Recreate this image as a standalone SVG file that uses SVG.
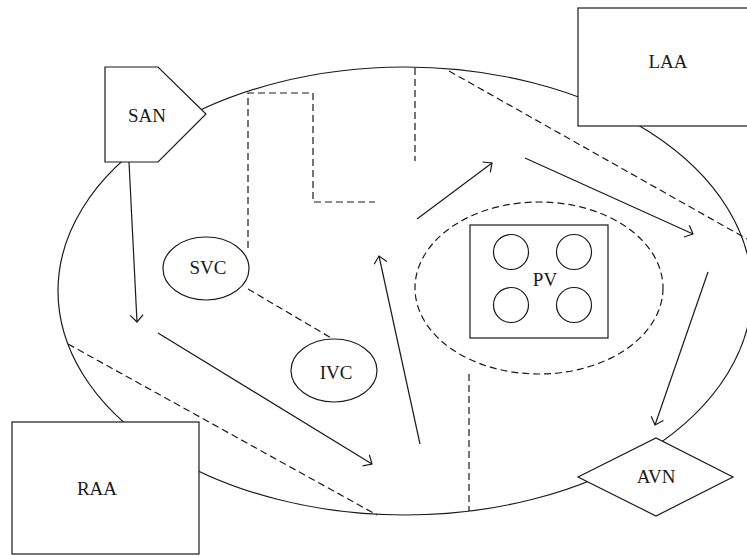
<svg xmlns="http://www.w3.org/2000/svg" width="747" height="556" viewBox="0 0 747 556">
<style>
.s{fill:none;stroke:#1a1a1a;stroke-width:1.2}
.n{fill:#fff;stroke:#1a1a1a;stroke-width:1.2}
.d{fill:none;stroke:#1a1a1a;stroke-width:1.2;stroke-dasharray:7,4}
.a{fill:none;stroke:#1a1a1a;stroke-width:1.2;marker-end:url(#arr)}
text{font-family:"Liberation Serif","Times New Roman",serif;font-size:19px;fill:#1a1a1a;text-anchor:middle}
</style>
<defs>
<marker id="arr" markerUnits="userSpaceOnUse" markerWidth="20" markerHeight="20" refX="10" refY="10" orient="auto" overflow="visible">
<path d="M3,3.5 L10,10 L3,16.5" fill="none" stroke="#1a1a1a" stroke-width="1.2"/>
</marker>
</defs>
<rect width="747" height="556" fill="#fff"/>
<g id="atrium">
<ellipse class="s" cx="405" cy="291" rx="347" ry="224"/>
</g>
<g id="connectors">
<polyline class="d" points="248,248 248,93 313,93 313,202 375,202"/>
<line class="d" x1="415" y1="68" x2="415" y2="161"/>
<line class="d" x1="449" y1="71" x2="747" y2="239"/>
<line class="d" x1="248" y1="289" x2="333" y2="339"/>
<line class="d" x1="68" y1="344" x2="377" y2="515"/>
<line class="d" x1="469" y1="374" x2="469" y2="511"/>
<line class="a" x1="129" y1="162" x2="137" y2="322"/>
<line class="a" x1="158" y1="333" x2="372" y2="464"/>
<line class="a" x1="420" y1="444" x2="379" y2="256"/>
<line class="a" x1="417" y1="219" x2="492" y2="163"/>
<line class="a" x1="525" y1="158" x2="693" y2="234"/>
<line class="a" x1="708" y1="272" x2="655" y2="425"/>
</g>
<g id="SAN">
<polygon class="n" points="105,67 158,67 206,114 158,162 105,162"/>
<text x="147" y="122">SAN</text>
</g>
<g id="LAA">
<rect class="n" x="578" y="8" width="180" height="118"/>
<text x="668" y="68">LAA</text>
</g>
<g id="SVC">
<ellipse class="n" cx="206" cy="268.5" rx="43" ry="31.5"/>
<text x="208" y="274">SVC</text>
</g>
<g id="IVC">
<ellipse class="n" cx="334" cy="370.5" rx="43" ry="31.5"/>
<text x="336" y="379">IVC</text>
</g>
<g id="PV">
<ellipse class="d" cx="539" cy="288" rx="124" ry="86"/>
<rect class="n" x="470" y="225" width="138" height="113"/>
<circle class="n" cx="511" cy="252" r="17.5"/>
<circle class="n" cx="574" cy="252" r="17.5"/>
<circle class="n" cx="511" cy="305" r="17.5"/>
<circle class="n" cx="574" cy="305" r="17.5"/>
<text x="545" y="286">PV</text>
</g>
<g id="RAA">
<rect class="n" x="12" y="422" width="187" height="132"/>
<text x="97" y="495">RAA</text>
</g>
<g id="AVN">
<polygon class="n" points="578,477 656,438 733,477 656,516"/>
<text x="656" y="483">AVN</text>
</g>
</svg>
